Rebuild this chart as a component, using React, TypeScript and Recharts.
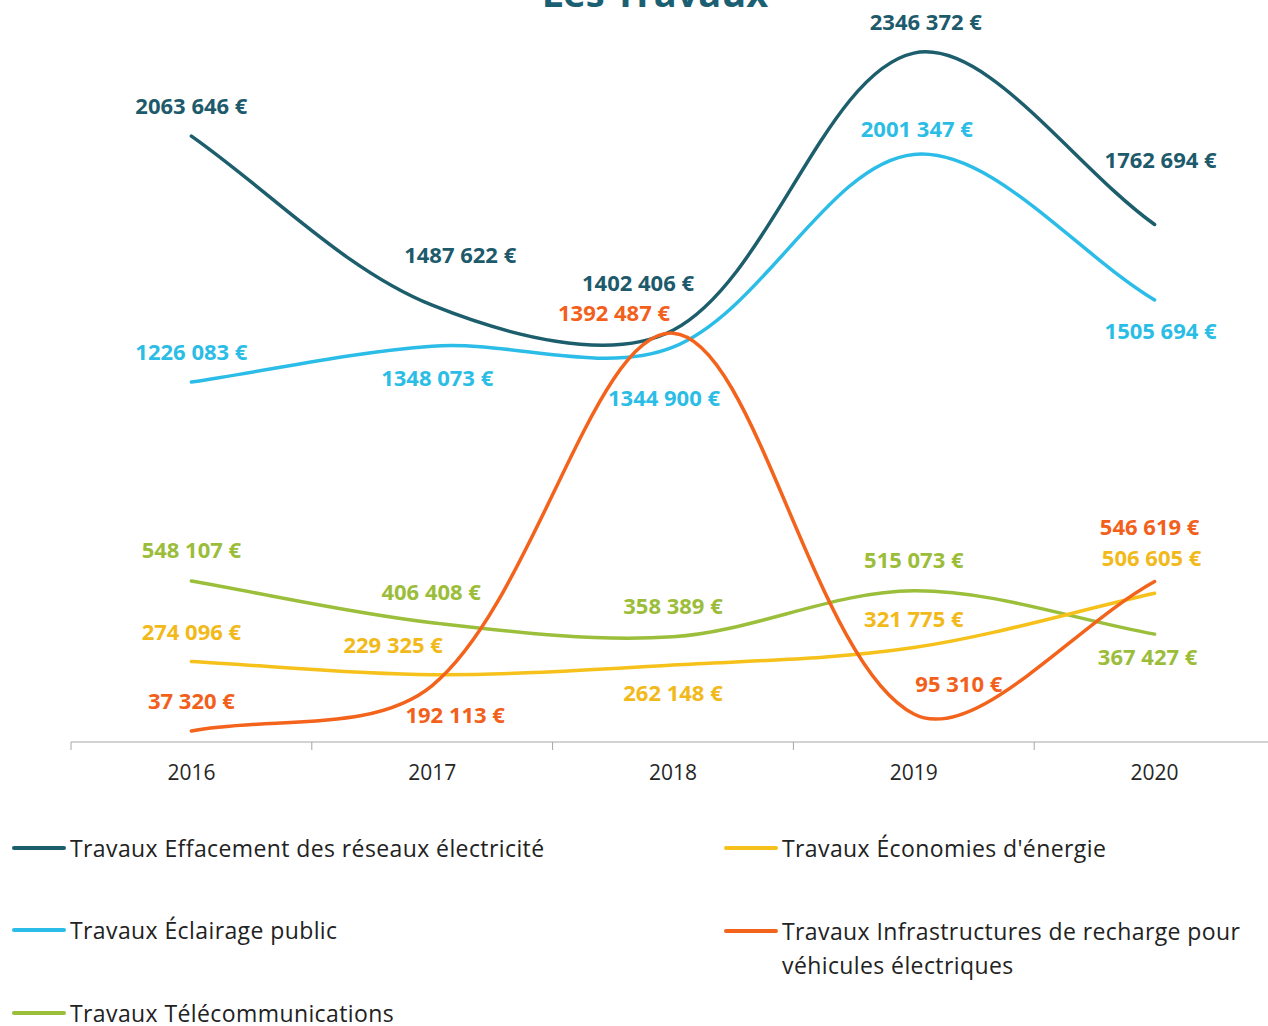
import React from "react";
import { LineChart, Line, XAxis, YAxis, LabelList } from "recharts";

const years = ["2016", "2017", "2018", "2019", "2020"];
const effacement = [2063646, 1487622, 1402406, 2346372, 1762694];
const eclairage = [1226083, 1348073, 1344900, 2001347, 1505694];
const telecom = [548107, 406408, 358389, 515073, 367427];
const economies = [274096, 229325, 262148, 321775, 506605];
const recharge = [37320, 192113, 1392487, 95310, 546619];

const seriesNames = [
  "Travaux Effacement des réseaux électricité",
  "Travaux Éclairage public",
  "Travaux Télécommunications",
  "Travaux Économies d'énergie",
  "Travaux Infrastructures de recharge pour véhicules électriques",
];

const data = years.map((y, i) => ({
  x: i,
  year: y,
  effacement: effacement[i],
  eclairage: eclairage[i],
  telecom: telecom[i],
  economies: economies[i],
  recharge: recharge[i],
}));

// styling: colours and label offsets (dx, dy) from each point
const series = [
  { key: "effacement", name: seriesNames[0], color: "#1d5e6d", label: "#1d5a6b",
    off: [[0, -31], [28, -51], [-35, -48], [12, -32], [6, -65]] },
  { key: "eclairage", name: seriesNames[1], color: "#2bbde8", label: "#2bbde6",
    off: [[0, -31], [5, 31], [-9, 50], [3, -26], [6, 30]] },
  { key: "telecom", name: seriesNames[2], color: "#9bbf3b", label: "#9bbd3a",
    off: [[0, -32], [-1, -32], [0, -32], [0, -32], [-7, 22]] },
  { key: "economies", name: seriesNames[3], color: "#f6c11b", label: "#f2b91a",
    off: [[0, -31], [-39, -31], [0, 27], [0, -30], [-3, -36]] },
  { key: "recharge", name: seriesNames[4], color: "#f3631c", label: "#f2601b",
    off: [[0, -31], [23, 28], [-59, -21], [45, -31], [-5, -56]] },
];

const fmt = (v: number) => {
  const s = String(Math.round(v));
  if (s.length <= 3) return s + " €";
  return s.slice(0, s.length - 3) + " " + s.slice(s.length - 3) + " €";
};

// Excel-like smoothing curve
function excelSmooth(context: any) {
  let pts: number[][] = [];
  const dist = (a: number[], b: number[]) => Math.hypot(a[0] - b[0], a[1] - b[1]);
  return {
    areaStart() {},
    areaEnd() {},
    lineStart() { pts = []; },
    point(x: number, y: number) { pts.push([+x, +y]); },
    lineEnd() {
      const n = pts.length;
      if (!n) return;
      context.moveTo(pts[0][0], pts[0][1]);
      for (let i = 0; i < n - 1; i++) {
        const p0 = pts[Math.max(0, i - 1)];
        const p1 = pts[i];
        const p2 = pts[i + 1];
        const p3 = pts[Math.min(n - 1, i + 2)];
        const d01 = dist(p0, p1), d12 = dist(p1, p2), d23 = dist(p2, p3);
        const f1 = d01 + d12 > 0 ? (d12 / (d01 + d12)) / 3 : 0;
        const f2 = d12 + d23 > 0 ? (d12 / (d12 + d23)) / 3 : 0;
        context.bezierCurveTo(
          p1[0] + (p2[0] - p0[0]) * f1,
          p1[1] + (p2[1] - p0[1]) * f1,
          p2[0] - (p3[0] - p1[0]) * f2,
          p2[1] - (p3[1] - p1[1]) * f2,
          p2[0],
          p2[1]
        );
      }
    },
  };
}

const FONT = "'Open Sans', sans-serif";

const AxisTick = (props: any) => {
  const { x, y, payload } = props;
  const v = payload.value;
  if (Math.abs(v - Math.round(v)) > 0.01) {
    return <line x1={x} y1={y} x2={x} y2={y + 8} stroke="#a6a6a6" strokeWidth={1} />;
  }
  return (
    <text x={x} y={y + 38} textAnchor="middle" fontFamily={FONT} fontSize={21} fill="#262626">
      {years[Math.round(v)]}
    </text>
  );
};

const makeLabel = (s: any) => (props: any) => {
  const { x, y, index, value } = props;
  const o = s.off[index] || [0, -30];
  return (
    <text
      x={x + o[0]}
      y={y + o[1]}
      textAnchor="middle"
      dominantBaseline="central"
      fontFamily={FONT}
      fontWeight={700}
      fontSize={22}
      fill={s.label}
    >
      {fmt(value)}
    </text>
  );
};

const LegendItem = ({ color, text, left, top, width, lh = 34 }: any) => (
  <div style={{ position: "absolute", left, top, width, display: "flex", alignItems: "flex-start" }}>
    <div style={{ width: 54, height: 4, borderRadius: 2, background: color, marginTop: lh / 2 - 2, flexShrink: 0 }} />
    <div
      style={{
        marginLeft: 4,
        fontFamily: FONT,
        fontSize: 23,
        letterSpacing: 0.4,
        lineHeight: lh + "px",
        color: "#222",
      }}
    >
      {text}
    </div>
  </div>
);

export default function App() {
  return (
    <div style={{ position: "absolute", left: 0, top: 0, width: 1268, height: 1026, overflow: "hidden", background: "#fff" }}>
      <svg style={{ position: "absolute", left: 0, top: 0 }} width={1268} height={40}>
        <text x={655} y={7} textAnchor="middle" fontFamily={FONT} fontWeight={700} fontSize={38} fill="#1b6072">
          Les Travaux
        </text>
      </svg>
      <div style={{ position: "absolute", left: 0, top: 0 }}>
        <LineChart width={1280} height={800} data={data} margin={{ top: 8, right: 5, left: 71, bottom: 0 }}>
          <XAxis
            dataKey="x"
            type="number"
            domain={[-0.5, 4.5]}
            ticks={[-0.5, 0, 0.5, 1, 1.5, 2, 2.5, 3, 3.5, 4, 4.5]}
            interval={0}
            tickLine={false}
            tickSize={0}
            tickMargin={0}
            height={58}
            axisLine={{ stroke: "#a6a6a6", strokeWidth: 1 }}
            tick={<AxisTick />}
          />
          <YAxis hide domain={[0, 2500000]} />
          {series.map((s) => (
            <Line
              key={s.key}
              dataKey={s.key}
              name={s.name}
              type={excelSmooth as any}
              stroke={s.color}
              strokeWidth={3.5}
              strokeLinecap="round"
              dot={false}
              activeDot={false}
              isAnimationActive={false}
            >
              <LabelList dataKey={s.key} content={makeLabel(s)} />
            </Line>
          ))}
        </LineChart>
      </div>
      <LegendItem color={series[0].color} text={seriesNames[0]} left={12} top={831} width={640} />
      <LegendItem color={series[1].color} text={seriesNames[1]} left={12} top={913} width={640} />
      <LegendItem color={series[2].color} text={seriesNames[2]} left={12} top={1000} width={640} lh={26} />
      <LegendItem color={series[3].color} text={seriesNames[3]} left={724} top={831} width={540} />
      <LegendItem color={series[4].color} text={seriesNames[4]} left={724} top={914} width={540} />
    </div>
  );
}
